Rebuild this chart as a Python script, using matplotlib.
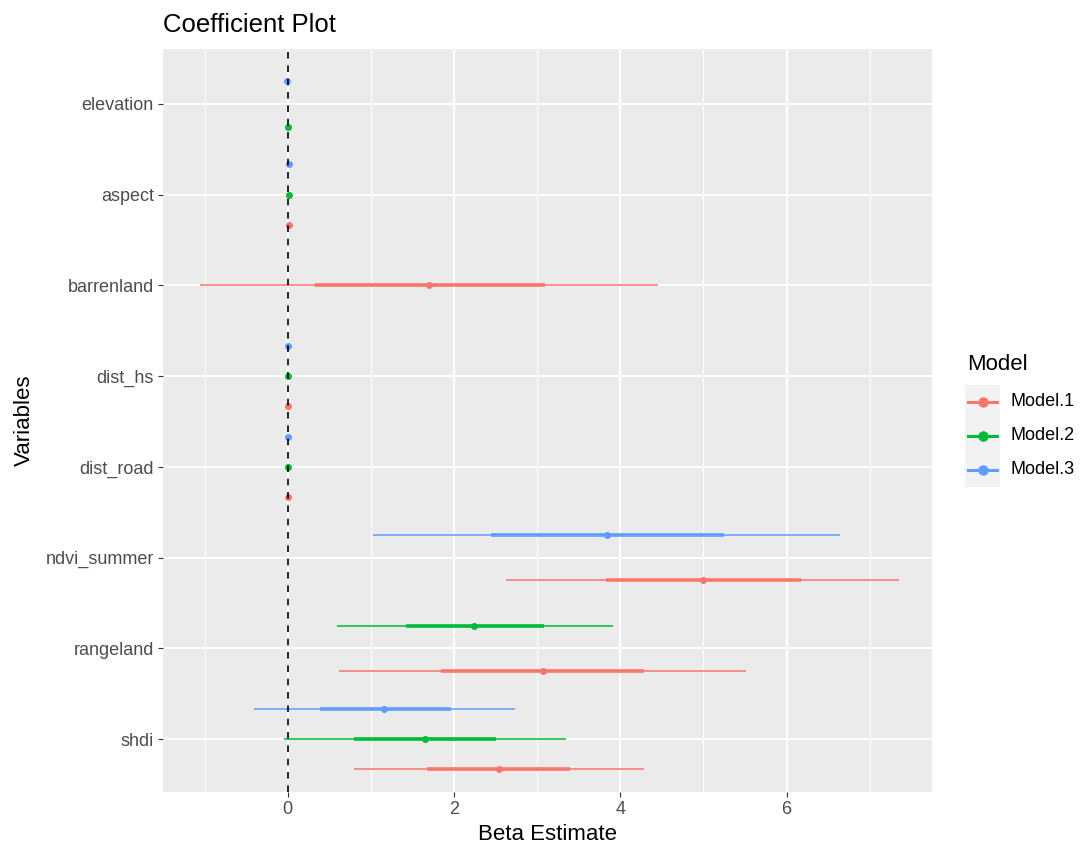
import matplotlib
matplotlib.use("Agg")
import matplotlib.pyplot as plt
from matplotlib.lines import Line2D
from matplotlib.patches import Rectangle

plt.rcParams["font.family"] = ["Liberation Sans", "DejaVu Sans"]

# variables from top to bottom of the plot
variables = ["elevation", "aspect", "barrenland", "dist_hs", "dist_road",
             "ndvi_summer", "rangeland", "shdi"]
models = ["Model.1", "Model.2", "Model.3"]
colors = ["#F8766D", "#00BA38", "#619CFF"]

# Model.1: estimate, inner (1 se) and outer (2 se) intervals
m1_vars = ["aspect", "barrenland", "dist_hs", "dist_road", "ndvi_summer", "rangeland", "shdi"]
m1_est = [0.02, 1.70, 0.00, 0.00, 5.00, 3.07, 2.54]
m1_in_lo = [0.01, 0.33, -0.01, -0.01, 3.83, 1.84, 1.67]
m1_in_hi = [0.03, 3.10, 0.01, 0.01, 6.18, 4.28, 3.40]
m1_out_lo = [0.00, -1.06, -0.02, -0.02, 2.63, 0.62, 0.80]
m1_out_hi = [0.04, 4.45, 0.02, 0.02, 7.35, 5.51, 4.28]

# Model.2
m2_vars = ["elevation", "aspect", "dist_hs", "dist_road", "rangeland", "shdi"]
m2_est = [0.00, 0.02, 0.00, 0.00, 2.24, 1.65]
m2_in_lo = [-0.01, 0.01, -0.01, -0.01, 1.42, 0.80]
m2_in_hi = [0.01, 0.03, 0.01, 0.01, 3.08, 2.50]
m2_out_lo = [-0.02, 0.00, -0.02, -0.02, 0.59, -0.05]
m2_out_hi = [0.02, 0.04, 0.02, 0.02, 3.91, 3.35]

# Model.3
m3_vars = ["elevation", "aspect", "dist_hs", "dist_road", "ndvi_summer", "shdi"]
m3_est = [-0.01, 0.02, 0.00, 0.00, 3.84, 1.16]
m3_in_lo = [-0.02, 0.01, -0.01, -0.01, 2.44, 0.39]
m3_in_hi = [0.00, 0.03, 0.01, 0.01, 5.25, 1.96]
m3_out_lo = [-0.03, 0.00, -0.02, -0.02, 1.02, -0.41]
m3_out_hi = [0.01, 0.04, 0.02, 0.02, 6.64, 2.74]

series = [
    (m1_vars, m1_est, m1_in_lo, m1_in_hi, m1_out_lo, m1_out_hi),
    (m2_vars, m2_est, m2_in_lo, m2_in_hi, m2_out_lo, m2_out_hi),
    (m3_vars, m3_est, m3_in_lo, m3_in_hi, m3_out_lo, m3_out_hi),
]

W, H = 1083, 847
fig = plt.figure(figsize=(W / 100, H / 100), dpi=100)
L, R, T, B = 163, 932, 49, 792
ax = fig.add_axes([L / W, 1 - B / H, (R - L) / W, (B - T) / H])
ax.set_facecolor("#EBEBEB")

n = len(variables)
ypos = {v: n - i for i, v in enumerate(variables)}

# dodge: models present for each variable, Model.1 at the bottom
present = {v: [k for k, s in enumerate(series) if v in s[0]] for v in variables}


def offset(v, k):
    ks = present[v]
    m = len(ks)
    j = ks.index(k)
    return (j - (m - 1) / 2) / m


for k, (vs, est, ilo, ihi, olo, ohi) in enumerate(series):
    c = colors[k]
    for i, v in enumerate(vs):
        y = ypos[v] + offset(v, k)
        ax.plot([olo[i], ohi[i]], [y, y], color=c, lw=1.1, solid_capstyle="butt", zorder=3)
        ax.plot([ilo[i], ihi[i]], [y, y], color=c, lw=2.6, solid_capstyle="butt", zorder=4)
        ax.plot(est[i], y, "o", color=c, ms=4, mec=c, zorder=5)

ax.axvline(0, color="black", ls=(0, (4, 4)), lw=1.2, zorder=6)

ax.set_xlim(-1.5, 7.75)
ax.set_ylim(0.416, 8.606)
ax.set_xticks([0, 2, 4, 6])
ax.set_xticks([-1, 1, 3, 5, 7], minor=True)
ax.set_yticks([ypos[v] for v in variables])
ax.set_yticklabels(variables)
ax.grid(which="major", color="white", lw=1.4)
ax.grid(which="minor", axis="x", color="white", lw=0.7)
ax.set_axisbelow(True)
for s in ax.spines.values():
    s.set_visible(False)
ax.tick_params(axis="both", which="major", length=3.5, width=0.8, color="#333333",
               labelcolor="#4D4D4D", labelsize=13, pad=3)
ax.tick_params(axis="both", which="minor", length=0)

ax.set_xlabel("Beta Estimate", fontsize=16, color="black", labelpad=4)
ax.set_ylabel("Variables", fontsize=16, color="black", labelpad=8)
fig.text(L / W, 1 - 25 / H, "Coefficient Plot", fontsize=18.5, ha="left", va="center")

# legend drawn in pixel coordinates
lg = fig.add_axes([0, 0, 1, 1], facecolor="none")
lg.set_xlim(0, W)
lg.set_ylim(H, 0)
lg.axis("off")
lg.text(967, 365, "Model", fontsize=16, ha="left", va="center")
key_y = [402, 436, 470]
lg.add_patch(Rectangle((965, 385), 35, 102, facecolor="#F2F2F2", edgecolor="none"))
for k, name in enumerate(models):
    y = key_y[k]
    lg.add_line(Line2D([968, 997], [y, y], color=colors[k], lw=2.2))
    lg.add_line(Line2D([982.5], [y], marker="o", color=colors[k], ms=6.5))
    lg.text(1010, y, name, fontsize=13, ha="left", va="center", color="black")

fig.savefig("out.png", dpi=100)
